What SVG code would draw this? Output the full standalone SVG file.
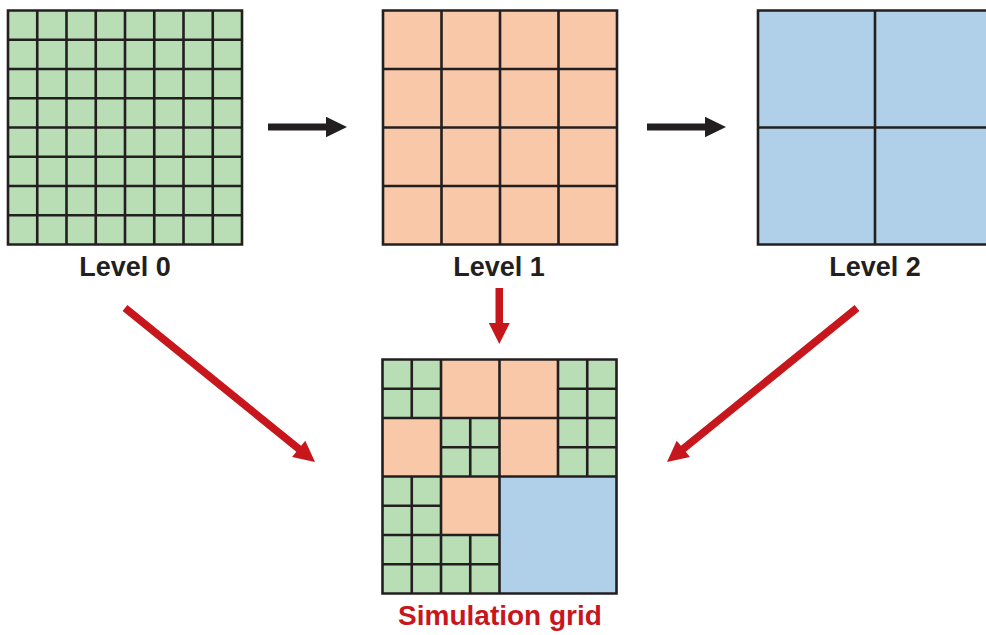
<svg xmlns="http://www.w3.org/2000/svg" width="986" height="635" viewBox="0 0 986 635">
<style>
.g{fill:#B9DDB4}.o{fill:#F8C8A8}.b{fill:#AFD0E8}
.ln{fill:none;stroke:#231F20;stroke-width:2.6;stroke-linecap:square}
.lbl{font-family:"Liberation Sans",Arial,sans-serif;font-weight:bold;font-size:27px;text-anchor:middle;fill:#231F20}
.red{fill:#C8161D}.blk{fill:#231F20}
</style>
<rect width="986" height="635" fill="#fff"/>
<g id="level0">
<rect class="g" x="8" y="10.5" width="234" height="234"/>
<path class="ln" d="M8,10.5H242V244.5H8Z M37.25,10.5V244.5 M66.5,10.5V244.5 M95.75,10.5V244.5 M125,10.5V244.5 M154.25,10.5V244.5 M183.5,10.5V244.5 M212.75,10.5V244.5 M8,39.75H242 M8,69H242 M8,98.25H242 M8,127.5H242 M8,156.75H242 M8,186H242 M8,215.25H242"/>
<text class="lbl" x="125" y="276">Level 0</text>
</g>
<g id="level1">
<rect class="o" x="383" y="10.5" width="234" height="234"/>
<path class="ln" d="M383,10.5H617V244.5H383Z M441.5,10.5V244.5 M500,10.5V244.5 M558.5,10.5V244.5 M383,69H617 M383,127.5H617 M383,186H617"/>
<text class="lbl" x="499" y="276">Level 1</text>
</g>
<g id="level2">
<rect class="b" x="758" y="10.5" width="234" height="234"/>
<path class="ln" d="M758,10.5H992V244.5H758Z M875,10.5V244.5 M758,127.5H992"/>
<text class="lbl" x="875" y="276">Level 2</text>
</g>
<g id="simgrid">
<rect class="g" x="382.5" y="359.5" width="58.5" height="58.5"/>
<rect class="g" x="558" y="359.5" width="58.5" height="117"/>
<rect class="g" x="441" y="418" width="58.5" height="58.5"/>
<rect class="g" x="382.5" y="476.5" width="58.5" height="117"/>
<rect class="g" x="441" y="535" width="58.5" height="58.5"/>
<rect class="o" x="441" y="359.5" width="58.5" height="58.5"/>
<rect class="o" x="499.5" y="359.5" width="58.5" height="58.5"/>
<rect class="o" x="382.5" y="418" width="58.5" height="58.5"/>
<rect class="o" x="499.5" y="418" width="58.5" height="58.5"/>
<rect class="o" x="441" y="476.5" width="58.5" height="58.5"/>
<rect class="b" x="499.5" y="476.5" width="117" height="117"/>
<path class="ln" d="M382.5,359.5H616.5V593.5H382.5Z
M411.75,359.5V418 M411.75,476.5V593.5 M441,359.5V593.5 M470.25,418V476.5 M470.25,535V593.5 M499.5,359.5V593.5 M558,359.5V476.5 M587.25,359.5V476.5
M382.5,388.75H441 M558,388.75H616.5 M382.5,418H616.5 M441,447.25H499.5 M558,447.25H616.5 M382.5,476.5H616.5 M382.5,505.75H441 M382.5,535H499.5 M382.5,564.25H499.5"/>
<text class="lbl" x="500" y="625" style="fill:#C8161D;font-size:28px">Simulation grid</text>
</g>
<g id="connectors">
<polygon class="blk" points="268,123.5 326,123.5 326,116.7 347,127 326,137.3 326,130.5 268,130.5"/>
<polygon class="blk" points="647,123.5 705,123.5 705,116.7 726,127 705,137.3 705,130.5 647,130.5"/>
<polygon class="red" points="495.5,288 503,288 503,323 509.8,323 499.3,344 488.8,323 495.5,323"/>
<polygon class="red" transform="translate(125,308) rotate(39.03)" points="0,-3.8 223.6,-3.8 223.6,-10.5 244.6,0 223.6,10.5 223.6,3.8 0,3.8"/>
<polygon class="red" transform="translate(857,308) rotate(140.97)" points="0,-3.8 223.6,-3.8 223.6,-10.5 244.6,0 223.6,10.5 223.6,3.8 0,3.8"/>
</g>
</svg>
